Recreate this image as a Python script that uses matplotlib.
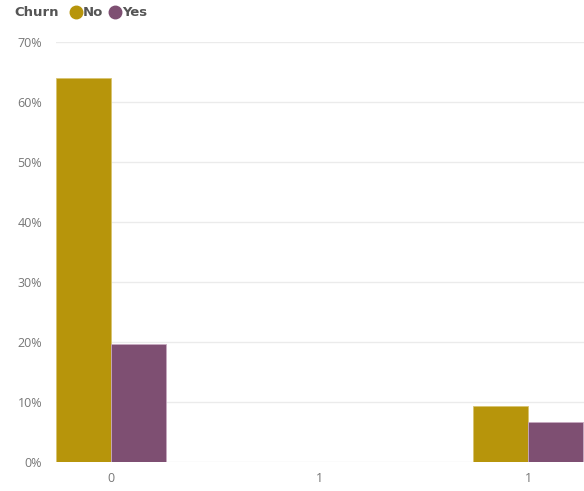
import matplotlib.pyplot as plt
from matplotlib.lines import Line2D
from matplotlib.ticker import FuncFormatter
import numpy as np

# data
groups = [0, 1]
series = ["No", "Yes"]
no_pct = [64.0, 9.3]
yes_pct = [19.7, 6.7]
x_ticks = [0, 0.5, 1]
x_ticklabels = ["0", "1", "1"]

col_no = "#B7950B"
col_yes = "#7E4F72"
txt_grey = "#777777"

plt.rcParams['font.family'] = ['Open Sans', 'DejaVu Sans']

fig = plt.figure(figsize=(5.84, 4.91), dpi=100)
W, H = 584, 491
ax = fig.add_axes([56 / W, (H - 462) / H, (584 - 56) / W, (462 - 42) / H])

bw = 0.1316
x = np.array(groups, dtype=float)
ax.bar(x - bw / 2, no_pct, width=bw, color=col_no, edgecolor="#D8C470",
       linewidth=0.6, zorder=3)
ax.bar(x + bw / 2, yes_pct, width=bw, color=col_yes, edgecolor="#C7A9C0",
       linewidth=0.6, zorder=3)

ax.set_ylim(0, 70)
ax.set_yticks(np.arange(0, 71, 10))
ax.yaxis.set_major_formatter(FuncFormatter(lambda v, p: f"{v:.0f}%"))
ax.set_xlim(-bw, 1.134)
ax.set_xticks(x_ticks)
ax.set_xticklabels(x_ticklabels)

ax.grid(axis="y", color="#EBEBEB", linewidth=1, zorder=0)
ax.set_axisbelow(True)
for s in ax.spines.values():
    s.set_visible(False)
ax.tick_params(axis="y", length=0, pad=10, labelsize=9, labelcolor=txt_grey)
ax.tick_params(axis="x", length=0, pad=7, labelsize=9, labelcolor=txt_grey)

# legend: "Churn" title then circle markers
leg_font = {"family": "DejaVu Sans", "weight": "bold", "size": 9.5}
fig.text(14 / W, 1 - 13 / H, "Churn", fontdict=leg_font,
         color="#555555", va="center", ha="left")
handles = [Line2D([], [], marker="o", linestyle="none", markersize=9,
                  markerfacecolor=c, markeredgecolor=c) for c in (col_no, col_yes)]
leg = fig.legend(handles, series, loc="center left",
                 bbox_to_anchor=(70 / W, 1 - 13 / H), ncol=2, frameon=False,
                 handlelength=0.9, handletextpad=0.1, columnspacing=0.4,
                 borderpad=0, borderaxespad=0, prop=leg_font)
for t in leg.get_texts():
    t.set_color("#555555")

fig.savefig("out.png", dpi=100)
